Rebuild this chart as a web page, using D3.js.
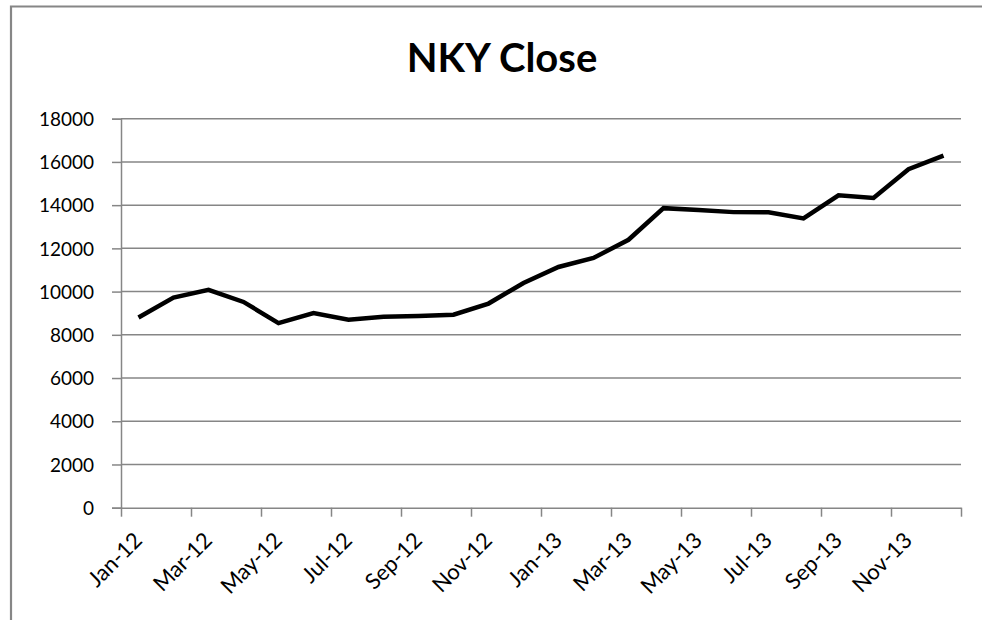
<!DOCTYPE html>
<html>
<head>
<meta charset="utf-8">
<script src="https://cdnjs.cloudflare.com/ajax/libs/d3/7.8.5/d3.min.js"></script>
<style>
  body { margin: 0; background: #fff; }
  text { font-family: Lato, "Open Sans", sans-serif; }
</style>
</head>
<body>
<div id="chart"></div>
<script>
// monthly closes, Jan-12 .. Dec-13
var months = ["Jan-12", "Feb-12", "Mar-12", "Apr-12", "May-12", "Jun-12",
    "Jul-12", "Aug-12", "Sep-12", "Oct-12", "Nov-12", "Dec-12",
    "Jan-13", "Feb-13", "Mar-13", "Apr-13", "May-13", "Jun-13",
    "Jul-13", "Aug-13", "Sep-13", "Oct-13", "Nov-13", "Dec-13"];
var closes = [8803, 9723, 10084, 9521, 8543, 9007,
    8695, 8840, 8870, 8928, 9446, 10395,
    11139, 11559, 12398, 13861, 13775, 13677,
    13668, 13389, 14456, 14328, 15662, 16291];
var yTicks = [0, 2000, 4000, 6000, 8000, 10000, 12000, 14000, 16000, 18000];
// one tick every 2 months, the last one (Jan-14) has no label
var xTicks = [0, 2, 4, 6, 8, 10, 12, 14, 16, 18, 20, 22, 24];
var xTickLabels = ["Jan-12", "Mar-12", "May-12", "Jul-12", "Sep-12", "Nov-12",
    "Jan-13", "Mar-13", "May-13", "Jul-13", "Sep-13", "Nov-13", ""];

(function () {
    var width = 982,
        height = 620;

    var left = 121, right = 961, top = 118.7, bottom = 507.7;
    var axisColor = "#868686";

    var svg = d3.select("#chart")
        .append("svg")
        .attr("width", width)
        .attr("height", height)

    // chart border (cut off at the right and bottom like the screenshot)
    svg.append("path")
        .attr("d", "M11,620 V6.5 H982")
        .attr("fill", "none")
        .attr("stroke", axisColor)
        .attr("stroke-width", 2.2)

    svg.append("text")
        .attr("x", 502)
        .attr("y", 72)
        .attr("text-anchor", "middle")
        .style("font-size", "40px")
        .style("font-weight", "bold")
        .text("NKY Close")

    var x = d3.scaleLinear().domain([0, months.length]).range([left, right])
    var y = d3.scaleLinear().domain([0, 18000]).range([bottom, top])

    // gridlines
    svg.append("g")
        .selectAll("line")
        .data(yTicks.filter(function (d) { return d > 0 }))
        .enter().append("line")
        .attr("x1", left)
        .attr("x2", right)
        .attr("y1", function (d) { return y(d) })
        .attr("y2", function (d) { return y(d) })
        .attr("stroke", axisColor)
        .attr("stroke-width", 1.5)

    var yAxis = svg.append("g")
        .attr("transform", "translate(" + left + ",0)")
        .call(d3.axisLeft(y).tickValues(yTicks).tickSize(9).tickPadding(18)
            .tickFormat(d3.format("d")))
    yAxis.select(".domain").attr("stroke", axisColor).attr("stroke-width", 1.5)
    yAxis.selectAll(".tick line").attr("stroke", axisColor).attr("stroke-width", 1.5)
    yAxis.selectAll(".tick text")
        .attr("fill", "#000")
        .style("font-size", "19px")
        .attr("dy", "0.35em")

    var xAxis = svg.append("g")
        .attr("transform", "translate(0," + bottom + ")")
        .call(d3.axisBottom(x).tickValues(xTicks).tickSize(9).tickSizeOuter(0)
            .tickFormat(function (d, i) { return xTickLabels[i] }))
    xAxis.select(".domain").attr("stroke", axisColor).attr("stroke-width", 1.5)
    xAxis.selectAll(".tick line").attr("stroke", axisColor).attr("stroke-width", 1.5)
    xAxis.selectAll(".tick text")
        .attr("fill", "#000")
        .style("font-size", "22px")
        .attr("text-anchor", "end")
        .attr("y", 0)
        .attr("dy", 0)
        .attr("transform", "translate(22,34) rotate(-45)")

    var line = d3.line()
        .x(function (d, i) { return x(i + 0.5) })
        .y(function (d) { return y(d) })

    svg.append("path")
        .datum(closes)
        .attr("d", line)
        .attr("fill", "none")
        .attr("stroke", "#000")
        .attr("stroke-width", 4.5)
        .attr("stroke-linejoin", "miter")
})();
</script>
</body>
</html>
